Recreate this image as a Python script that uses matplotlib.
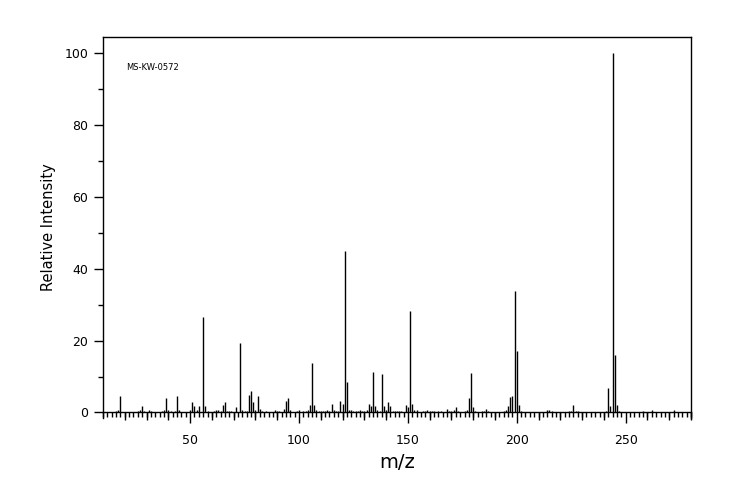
import matplotlib
matplotlib.use('Agg')
import matplotlib.pyplot as plt
from matplotlib.ticker import MultipleLocator

# 质谱数据 m/z 与相对强度
mz = [16, 17, 18, 26, 27, 28, 29, 31, 32, 37, 38, 39, 40, 41, 43, 44, 45,
      50, 51, 52, 53, 54, 56, 57, 58, 61, 62, 63, 64, 65, 66, 67, 68, 69,
      71, 73, 74, 75, 76, 77, 78, 79, 80, 81, 82, 83, 85, 89, 90, 91, 93,
      94, 95, 96, 99, 100, 102, 103, 104, 105, 106, 107, 108, 109, 110, 111,
      112, 113, 114, 115, 116, 117, 118, 119, 120, 121, 122, 123, 124, 125,
      126, 127, 128, 129, 130, 131, 132, 133, 134, 135, 136, 137, 138, 139,
      140, 141, 142, 143, 144, 145, 146, 147, 149, 150, 151, 152, 153, 154,
      157, 158, 159, 160, 161, 162, 164, 165, 168, 169, 170, 171, 172, 173,
      176, 177, 178, 179, 180, 181, 184, 185, 186, 187, 194, 195, 196, 197,
      198, 199, 200, 201, 202, 214, 215, 216, 224, 225, 226, 227, 228, 241,
      242, 243, 244, 245, 246, 247, 258, 262, 272]
intensity = [0.3, 0.8, 4.7, 0.3, 0.8, 1.9, 0.3, 0.8, 0.3, 0.3, 0.6, 3.9, 0.8, 0.3, 0.3, 4.7, 0.6,
             0.8, 2.8, 1.7, 0.6, 1.7, 26.7, 1.7, 0.3, 0.3, 0.6, 0.8, 0.3, 2.2, 2.8, 0.3, 0.3, 0.3,
             1.4, 19.3, 0.8, 0.3, 0.3, 5.0, 6.1, 2.8, 0.6, 4.5, 1.1, 0.3, 0.3, 0.6, 0.3, 0.3, 1.1,
             3.1, 3.9, 0.6, 0.3, 0.8, 0.3, 0.3, 0.8, 2.2, 13.9, 2.2, 0.6, 0.3, 0.3, 0.3,
             0.3, 0.6, 0.3, 2.5, 0.6, 0.3, 0.3, 3.3, 2.5, 45.0, 8.6, 0.6, 0.6, 0.3,
             0.3, 0.3, 0.6, 0.3, 0.3, 0.6, 2.5, 1.7, 11.4, 1.7, 0.8, 0.3, 10.8, 1.9,
             0.6, 2.8, 1.7, 0.3, 0.3, 0.3, 0.3, 0.3, 2.2, 1.4, 28.2, 2.5, 0.8, 0.6,
             0.3, 0.3, 0.6, 0.3, 0.3, 0.3, 0.3, 0.3, 1.1, 0.3, 0.3, 0.6, 1.4, 0.3,
             0.3, 0.8, 3.9, 11.1, 1.4, 0.3, 0.3, 0.3, 1.1, 0.3, 0.3, 0.6, 1.9, 4.2,
             4.7, 33.7, 17.2, 2.2, 0.3, 0.6, 0.6, 0.3, 0.3, 0.3, 2.2, 0.3, 0.3, 0.3,
             6.7, 1.7, 100.0, 15.9, 2.0, 0.3, 0.3, 0.6, 0.6]

fig = plt.figure(figsize=(7.44, 5.0), dpi=100)
ax = fig.add_axes([103/744, 1-418/500, 588/744, 381/500])

ax.vlines(mz, 0, intensity, colors='black', linewidth=1.0)

ax.set_xlim(10, 280)
ax.set_ylim(-1.53, 104.45)

# 底部轴线放在 y=0，刻度向下
ax.spines['bottom'].set_position(('data', 0))
for s in ax.spines.values():
    s.set_linewidth(1.0)
    s.set_color('black')

ax.xaxis.set_major_locator(MultipleLocator(50))
ax.xaxis.set_minor_locator(MultipleLocator(2))
ax.yaxis.set_major_locator(MultipleLocator(20))
ax.yaxis.set_minor_locator(MultipleLocator(10))
ax.tick_params(axis='x', which='major', direction='out', length=7.7, width=1.0,
               labelsize=9, pad=8)
ax.tick_params(axis='x', which='minor', direction='out', length=3.8, width=1.0)
ax.tick_params(axis='y', which='major', direction='out', length=6.5, width=1.0,
               labelsize=9, pad=4)
ax.tick_params(axis='y', which='minor', direction='out', length=3.3, width=1.0)

# 每10个单位的中等刻度
mid_ticks = [v for v in range(20, 281, 10) if v % 50]
ax.vlines(mid_ticks, -2.05, 0, colors='black', linewidth=1.0, clip_on=False)

ax.set_xlabel('m/z', fontsize=14, labelpad=4)
ax.set_ylabel('Relative Intensity', fontsize=10.5, labelpad=6)

fig.text(126/744, 1-67/500, 'MS-KW-0572', fontsize=6, va='center')

fig.savefig('out.png', dpi=100)
